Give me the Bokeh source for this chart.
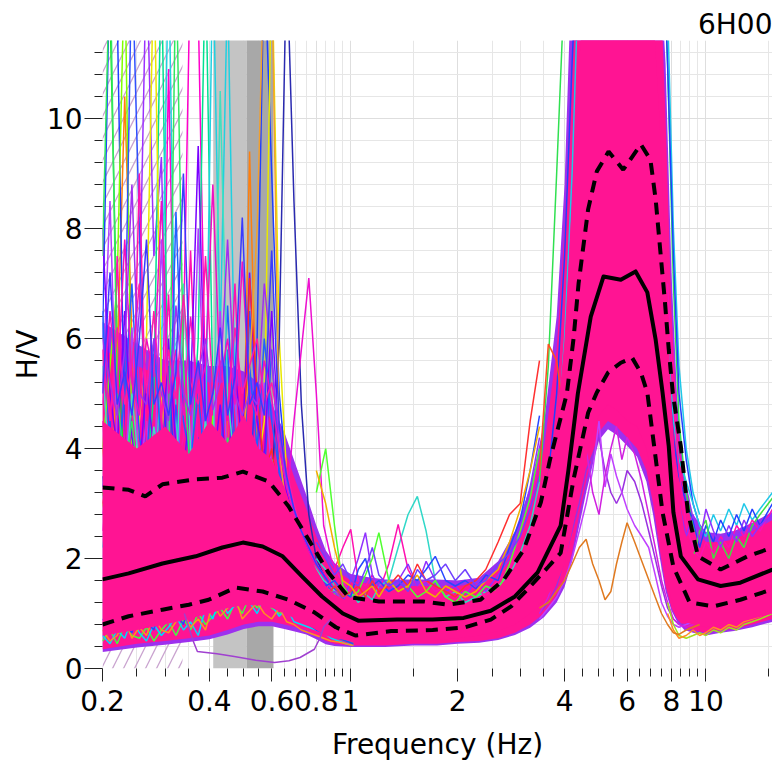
from bokeh.plotting import figure
from bokeh.models import Range1d, FixedTicker, NumeralTickFormatter
from bokeh.embed import file_html
from bokeh.resources import INLINE

# ---------------- axes / ticks ----------------
X_START, X_END = 0.2, 15.4
Y_START, Y_END = 0.0, 11.42
X_MAJOR = [0.2, 0.4, 0.6, 0.8, 1, 2, 4, 6, 8, 10]
X_MINOR = [0.25, 0.3, 0.35, 0.45, 0.5, 0.55, 0.65, 0.7, 0.75, 0.85, 0.9, 0.95,
           1.5, 2.5, 3, 3.5, 4.5, 5, 5.5, 6.5, 7, 7.5, 8.5, 9, 9.5, 15, 20]
Y_MAJOR = [0, 2, 4, 6, 8, 10]
Y_MINOR = [0.4, 0.8, 1.2, 1.6, 2.4, 2.8, 3.2, 3.6, 4.4, 4.8, 5.2, 5.6, 6.4, 6.8,
           7.2, 7.6, 8.4, 8.8, 9.2, 9.6, 10.4, 10.8, 11.2]

# shaded frequency regions (Hz)
HATCH_F = [0.2, 0.336]
GRAY_LIGHT_F = [0.41, 0.509]
GRAY_DARK_F = [0.509, 0.606]

# ---------------- dense band of windows (envelopes) ----------------
FB = [0.2, 0.25, 0.3, 0.35, 0.4, 0.45, 0.5, 0.55, 0.6, 0.65,
      0.7, 0.75, 0.8, 0.85, 0.9, 1.0, 1.1, 1.25, 1.5, 1.75,
      2.0, 2.3, 2.6, 2.9, 3.2, 3.5, 3.8, 4.0, 4.2, 4.4,
      4.6, 4.8, 5.0, 5.3, 5.6, 6.0, 6.4, 6.8, 7.1, 7.4,
      7.7, 8.0, 8.3, 8.7, 9.2, 10, 11, 12, 13.5, 15.4]
FRINGE_LO = [0.3, 0.38, 0.43, 0.48, 0.53, 0.62, 0.72, 0.77, 0.77, 0.72,
             0.67, 0.62, 0.53, 0.44, 0.41, 0.39, 0.39, 0.39, 0.42, 0.42,
             0.45, 0.47, 0.52, 0.61, 0.74, 0.93, 1.2, 1.48, 1.95, 2.6,
             3.2, 3.7, 4.15, 4.35, 4.25, 4.05, 3.85, 3.4, 2.8, 2.05,
             1.4, 1.05, 0.85, 0.7, 0.65, 0.6, 0.65, 0.68, 0.75, 0.85]
FRINGE_HI = [6.3, 5.9, 5.6, 5.6, 5.5, 5.5, 5.4, 5.2, 4.8, 4.3,
             3.7, 3.15, 2.6, 2.15, 1.92, 1.72, 1.67, 1.62, 1.62, 1.62,
             1.6, 1.65, 1.95, 2.5, 3.3, 4.45, 6.4, 8.8, 13, 13,
             13, 13, 13, 13, 13, 13, 13, 13, 13, 13,
             11, 7.2, 4.9, 3.5, 2.8, 2.48, 2.45, 2.5, 2.65, 2.85]
BAND_LO = [0.35, 0.45, 0.5, 0.55, 0.6, 0.7, 0.8, 0.85, 0.85, 0.8,
           0.75, 0.7, 0.6, 0.5, 0.45, 0.42, 0.42, 0.42, 0.45, 0.45,
           0.48, 0.5, 0.55, 0.65, 0.8, 1.0, 1.3, 1.6, 2.1, 2.8,
           3.4, 3.9, 4.3, 4.5, 4.4, 4.2, 4.0, 3.6, 3.0, 2.2,
           1.5, 1.1, 0.9, 0.75, 0.7, 0.65, 0.7, 0.72, 0.8, 0.9]
BAND_HI = [5.8, 5.5, 5.3, 5.3, 5.2, 5.2, 5.1, 4.9, 4.5, 4.0,
           3.4, 2.9, 2.4, 2.0, 1.8, 1.6, 1.55, 1.5, 1.5, 1.5,
           1.5, 1.55, 1.8, 2.3, 3.0, 4.0, 5.8, 8.0, 11, 13,
           13, 13, 13, 13, 13, 13, 13, 13, 13, 13,
           10, 6.5, 4.5, 3.2, 2.6, 2.3, 2.3, 2.35, 2.5, 2.7]
CORE_LO = [0.6, 0.7, 0.8, 0.9, 1.0, 1.1, 1.15, 1.15, 1.1, 1.0,
           0.9, 0.8, 0.7, 0.6, 0.55, 0.5, 0.5, 0.5, 0.52, 0.52,
           0.55, 0.6, 0.68, 0.8, 1.0, 1.25, 1.55, 1.9, 2.5, 3.2,
           3.8, 4.3, 4.6, 4.8, 4.7, 4.5, 4.4, 4.0, 3.4, 2.5,
           1.7, 1.25, 1.0, 0.85, 0.8, 0.75, 0.8, 0.82, 0.9, 1.0]
CORE_HI = [4.5, 4.0, 4.4, 3.9, 4.5, 4.1, 4.6, 4.0, 3.8, 3.3,
           2.7, 2.2, 1.8, 1.5, 1.35, 1.2, 1.15, 1.15, 1.15, 1.15,
           1.15, 1.25, 1.45, 1.85, 2.4, 3.2, 4.4, 6.0, 8.5, 11.0,
           13, 13, 13, 13, 13, 13, 13, 13, 12, 10,
           7.5, 4.8, 3.3, 2.5, 2.1, 1.95, 1.95, 2.0, 2.1, 2.3]

# ---------------- individual windows, low frequencies ----------------
FL = [0.200, 0.210, 0.220, 0.231, 0.242, 0.254, 0.266, 0.279, 0.293, 0.307,
      0.322, 0.338, 0.354, 0.372, 0.390, 0.409, 0.429, 0.450, 0.472, 0.495,
      0.519, 0.545, 0.571, 0.599, 0.629, 0.660, 0.692, 0.726, 0.762, 0.800,
      0.839, 0.880, 0.924, 0.969, 1.017]
LOW_TRACES = [
    [13, 12, 6, 3.5, 2.5, 3, 2.2, 3.8, 2.6, 2.0, 3.0, 2.4, 2.2, 3.1, 2.5, 2.8, 2.3, 3.5, 2.7, 2.2,
     2.6, 2.9, 2.4, 2.8, 2.5, 2.2, 2.0, 1.9, 1.8, 1.6, 1.4, 1.3, 1.2, 1.1, 1.0],
    [4.0, 3.0, 5.5, 10.4, 6.0, 3.0, 4.0, 2.5, 3.2, 2.2, 2.8, 3.6, 2.4, 2.0, 3.0, 2.6, 2.2, 4.5, 3.0, 2.6,
     9.4, 4.0, 3.2, 2.5, 2.8, 2.0, 1.8, 1.6, 1.5, 1.4, 1.3, 1.2, 1.1, 1.0, 0.9],
    [6.0, 13, 12, 4.0, 3.2, 2.8, 3.5, 2.6, 2.9, 5.5, 3.0, 2.5, 3.0, 4.2, 2.8, 3.0, 2.5, 2.7, 3.6, 2.8,
     3.0, 6.0, 13, 9.0, 5.0, 3.5, 2.5, 2.2, 1.9, 1.7, 1.5, 1.3, 1.2, 1.1, 1.0],
    [3.0, 2.4, 3.5, 2.6, 4.8, 6.5, 13, 7.5, 9.3, 3.5, 2.8, 3.3, 2.6, 3.0, 5.6, 3.2, 2.5, 2.9, 3.8, 3.0,
     2.7, 3.4, 2.6, 2.9, 2.4, 2.1, 1.9, 1.7, 1.6, 1.5, 1.3, 1.2, 1.1, 1.0, 0.95],
    [2.5, 3.5, 2.8, 4.0, 3.0, 5.0, 3.2, 2.6, 3.4, 10.9, 4.0, 6.0, 13, 12, 5.0, 3.0, 2.6, 3.5, 2.8, 4.5,
     3.0, 2.5, 3.2, 2.8, 3.0, 2.6, 2.4, 2.2, 2.0, 1.8, 1.6, 1.4, 1.3, 1.2, 1.1],
    [3.2, 2.5, 3.0, 2.6, 3.6, 2.8, 3.4, 5.0, 13, 4.0, 3.0, 2.8, 3.5, 6.0, 13, 5.0, 3.0, 3.3, 2.7, 3.1,
     2.6, 3.0, 2.8, 3.6, 2.9, 2.5, 2.2, 2.0, 1.8, 1.6, 1.5, 1.3, 1.2, 1.1, 1.0],
    [2.2, 3.0, 2.6, 3.3, 2.8, 3.0, 4.2, 3.1, 5.5, 13, 4.5, 3.0, 2.7, 3.5, 4.2, 13, 6.0, 12.5, 5.0, 3.0,
     2.8, 3.3, 2.6, 3.0, 2.5, 2.7, 2.3, 2.1, 1.9, 1.7, 1.5, 1.4, 1.3, 1.2, 1.1],
    [3.0, 2.5, 3.5, 2.8, 3.2, 4.5, 6.0, 13, 5.0, 3.2, 2.8, 3.5, 2.9, 3.1, 2.6, 3.0, 3.4, 2.7, 3.2, 2.8,
     3.0, 3.6, 4.5, 13, 6.0, 3.5, 2.5, 2.2, 2.0, 1.8, 1.6, 1.5, 1.3, 1.2, 1.1],
    [3.5, 2.8, 3.2, 4.0, 2.9, 3.5, 2.7, 3.3, 2.6, 3.0, 2.8, 3.6, 2.9, 3.1, 2.7, 3.2, 2.8, 3.0, 3.5, 2.9,
     3.3, 3.0, 3.6, 3.2, 6.0, 13, 8.5, 4.8, 2.8, 2.0, 1.7, 1.5, 1.4, 1.2, 1.1],
    [2.8, 3.5, 2.6, 3.0, 3.8, 2.7, 3.2, 2.9, 3.6, 2.5, 3.0, 2.7, 3.4, 2.8, 3.2, 2.6, 3.0, 3.5, 2.8, 3.1,
     2.7, 3.3, 2.9, 3.0, 2.6, 3.0, 4.5, 5.8, 7.1, 5.0, 2.6, 2.0, 1.7, 1.5, 1.3],
    [4.0, 5.5, 7.0, 13, 4.0, 3.0, 2.7, 3.4, 3.0, 2.6, 3.2, 2.8, 3.0, 2.5, 3.3, 4.6, 3.0, 2.6, 3.1, 2.8,
     4.0, 2.9, 3.2, 2.7, 3.0, 2.5, 2.2, 2.0, 1.8, 1.7, 1.5, 1.4, 1.3, 1.2, 1.1],
    [3.3, 4.5, 3.0, 5.5, 13, 8.0, 3.5, 2.8, 3.6, 3.0, 4.8, 3.2, 2.9, 3.5, 3.0, 2.7, 3.3, 5.8, 3.4, 3.0,
     6.5, 4.5, 3.5, 5.8, 3.5, 2.8, 2.4, 2.1, 1.9, 1.7, 1.6, 1.4, 1.3, 1.2, 1.1],
    [5.0, 8.5, 4.0, 3.0, 6.2, 3.5, 4.5, 3.0, 7.8, 4.2, 3.2, 5.5, 3.5, 8.0, 4.0, 3.5, 6.5, 3.6, 5.0, 3.2,
     4.0, 3.4, 5.2, 3.6, 3.2, 2.8, 2.5, 2.2, 2.0, 1.8, 1.6, 1.5, 1.3, 1.2, 1.1],
    [4.5, 3.2, 7.5, 4.0, 3.5, 9.0, 4.0, 3.2, 4.5, 6.8, 3.5, 4.2, 7.6, 3.8, 3.3, 5.0, 3.6, 4.2, 7.0, 3.8,
     3.4, 4.6, 3.6, 3.2, 3.8, 3.0, 2.6, 2.3, 2.1, 1.9, 1.7, 1.5, 1.4, 1.2, 1.1],
    [6.5, 4.0, 3.5, 5.0, 7.0, 4.2, 3.6, 6.0, 4.0, 3.5, 8.3, 4.5, 3.8, 5.0, 3.6, 4.4, 3.5, 6.6, 4.0, 3.6,
     5.5, 4.0, 6.0, 4.5, 3.6, 3.0, 2.6, 2.3, 2.0, 1.8, 1.6, 1.5, 1.3, 1.2, 1.1],
    [8.0, 5.0, 4.0, 6.5, 4.2, 3.6, 5.2, 4.0, 3.5, 6.0, 4.0, 3.5, 5.0, 9.5, 4.5, 3.6, 4.8, 3.5, 5.5, 4.0,
     7.2, 4.5, 3.8, 6.5, 4.0, 3.2, 2.8, 2.4, 2.1, 1.9, 1.7, 1.5, 1.4, 1.2, 1.1],
    [3.0, 3.6, 2.8, 3.4, 3.0, 3.8, 2.9, 3.3, 3.0, 3.6, 2.8, 3.2, 3.0, 3.4, 2.9, 3.1, 3.6, 3.0, 3.3, 2.8,
     7.1, 5.0, 3.5, 4.0, 3.0, 2.6, 2.3, 2.1, 1.9, 1.7, 1.5, 1.4, 1.3, 1.2, 1.1],
    [5.5, 3.5, 4.0, 3.2, 5.0, 3.6, 3.2, 4.4, 3.5, 4.0, 3.3, 7.0, 4.0, 3.4, 4.5, 3.6, 10.5, 5.0, 3.6, 3.3,
     4.0, 3.5, 3.2, 3.8, 3.2, 2.8, 2.5, 2.2, 2.0, 1.8, 1.6, 1.5, 1.3, 1.2, 1.1],
    [3.2, 2.8, 3.4, 3.0, 2.7, 3.3, 2.9, 3.1, 2.6, 3.4, 3.0, 2.8, 3.2, 2.9, 3.5, 3.0, 2.7, 3.3, 3.1, 4.0,
     5.5, 8.0, 13, 13, 4.0, 2.8, 2.4, 2.1, 1.9, 1.7, 1.5, 1.4, 1.3, 1.2, 1.1],
    [7.5, 13, 5.0, 3.6, 4.5, 3.2, 3.8, 3.0, 4.0, 3.4, 13, 5.5, 3.5, 4.0, 3.3, 3.8, 3.2, 4.2, 3.5, 3.0,
     3.6, 3.2, 3.0, 3.4, 3.0, 2.6, 2.3, 2.1, 1.9, 1.7, 1.5, 1.4, 1.3, 1.2, 1.1],
    [5.8, 4.5, 6.2, 4.8, 5.5, 7.0, 5.0, 6.5, 4.6, 5.8, 4.9, 6.8, 5.2, 4.8, 7.5, 5.0, 5.6, 4.7, 6.2, 5.0,
     5.5, 6.0, 4.8, 5.2, 4.4, 3.6, 3.0, 2.5, 2.2, 1.9, 1.7, 1.5, 1.4, 1.2, 1.1],
    [4.8, 6.5, 5.0, 7.8, 5.2, 4.6, 6.0, 5.3, 8.5, 5.0, 5.8, 4.6, 6.4, 5.0, 5.5, 8.8, 5.2, 6.0, 4.8, 7.4,
     5.0, 4.6, 5.6, 4.9, 4.0, 3.3, 2.8, 2.4, 2.1, 1.9, 1.7, 1.5, 1.4, 1.2, 1.1],
    [6.0, 5.2, 4.6, 5.8, 8.8, 5.0, 4.8, 6.0, 5.0, 4.5, 6.6, 5.0, 4.6, 5.4, 6.0, 4.7, 5.2, 7.8, 5.0, 4.6,
     5.0, 4.8, 7.0, 5.6, 4.2, 3.4, 2.9, 2.5, 2.2, 1.9, 1.7, 1.5, 1.4, 1.2, 1.1],
    [5.0, 7.2, 4.8, 5.4, 4.6, 6.0, 7.8, 4.8, 5.2, 4.6, 5.4, 9.0, 4.8, 5.6, 4.5, 5.0, 6.2, 4.6, 5.3, 8.2,
     4.8, 5.2, 4.6, 7.6, 4.4, 3.5, 2.9, 2.5, 2.2, 1.9, 1.7, 1.5, 1.4, 1.2, 1.1],
]
LOW_COLORS = ["#22dd22", "#ff7f0e", "#1f3fff", "#9b30ff", "#ff00cc", "#00e090", "#20d0e0",
              "#e8e800", "#2a2ab0", "#ee10d0", "#80ff00", "#3050ff", "#b040ff", "#ff10b0",
              "#2060ff", "#7a00ff", "#ff2a2a", "#40e0c0", "#f0a030", "#30e860",
              "#ff1aa8", "#f010c0", "#a030f0", "#3a3aff"]

BOTTOM_TRACES = [
    [0.5, 0.7, 0.45, 0.8, 0.6, 0.55, 0.75, 0.5, 0.7, 0.85, 0.6, 0.9, 0.7, 1.0, 0.8, 0.95, 1.1, 0.9, 1.2, 1.0,
     1.3, 1.1, 1.25, 1.1, 1.0, 1.05, 0.95, 0.9, 0.8, 0.75, 0.7, 0.6, 0.55, 0.5, 0.45],
    [0.6, 0.45, 0.7, 0.55, 0.9, 0.65, 0.5, 0.8, 0.6, 0.75, 0.95, 0.7, 0.85, 0.6, 1.1, 0.9, 1.3, 1.0, 1.15, 1.4,
     1.2, 1.0, 1.3, 1.15, 0.95, 1.1, 0.85, 0.8, 0.75, 0.7, 0.65, 0.55, 0.5, 0.45, 0.42],
    [0.7, 0.5, 0.6, 0.9, 0.55, 0.75, 0.6, 0.95, 0.7, 0.65, 0.85, 1.0, 0.75, 0.9, 0.7, 1.2, 0.95, 1.1, 1.3, 0.9,
     1.05, 1.2, 1.0, 0.9, 1.1, 0.85, 0.8, 0.7, 0.65, 0.6, 0.55, 0.5, 0.48, 0.45, 0.42],
    [0.9, 0.7, 1.0, 0.8, 0.65, 1.1, 0.85, 0.7, 1.2, 0.9, 1.0, 0.8, 1.3, 1.0, 1.15, 1.4, 1.1, 1.5, 1.2, 1.35,
     1.6, 1.3, 1.4, 1.2, 1.3, 1.1, 1.0, 0.9, 0.8, 0.7, 0.65, 0.6, 0.55, 0.5, 0.45],
]
BOTTOM_COLORS = ["#40ff40", "#00d8ff", "#ff9020", "#3040ff"]

# ---------------- individual windows, 0.8 - 3.4 Hz ----------------
FM = [0.8, 0.85, 0.9, 0.95, 1.0, 1.05, 1.1, 1.15, 1.2, 1.28,
      1.36, 1.45, 1.54, 1.63, 1.73, 1.85, 1.97, 2.1, 2.25, 2.4,
      2.6, 2.8, 3.0, 3.2, 3.4]
MID_TRACES = [
    [2.0, 1.8, 1.5, 1.3, 1.4, 1.2, 1.35, 1.25, 1.5, 1.6, 2.2, 2.8, 3.13, 2.5, 1.6, 1.3, 1.4, 1.2, 1.3, 1.4, 1.5, 1.7, 2.1, 2.6, 3.4],
    [1.6, 1.4, 1.8, 2.2, 2.53, 1.6, 1.5, 1.7, 1.4, 1.9, 2.62, 1.8, 1.5, 1.6, 1.4, 1.5, 1.3, 1.4, 1.5, 1.3, 1.6, 1.8, 2.4, 3.0, 3.8],
    [1.5, 1.3, 1.4, 1.2, 1.6, 2.0, 2.47, 1.7, 1.5, 1.4, 1.6, 1.9, 1.5, 1.95, 1.6, 1.4, 1.5, 1.3, 1.6, 1.4, 1.7, 2.0, 2.6, 3.3, 4.2],
    [3.2, 4.0, 2.6, 1.5, 1.3, 1.4, 1.7, 2.0, 2.47, 1.6, 1.4, 1.5, 1.3, 1.4, 1.6, 1.3, 1.2, 1.4, 1.3, 1.5, 1.4, 1.9, 2.5, 3.1, 4.0],
    [1.7, 1.5, 1.6, 1.4, 1.3, 1.8, 2.0, 1.5, 1.6, 1.4, 1.5, 1.7, 1.6, 1.8, 2.04, 1.6, 1.5, 1.6, 1.45, 1.7, 1.6, 2.2, 2.7, 3.6, 4.6],
    [1.4, 1.3, 1.5, 1.3, 1.4, 1.5, 1.3, 1.6, 1.4, 1.5, 1.7, 1.5, 1.9, 1.6, 1.5, 1.4, 1.3, 1.5, 1.6, 1.8, 2.3, 2.8, 3.0, 4.5, 5.6],
    [3.6, 3.0, 2.2, 1.6, 1.5, 1.3, 1.4, 1.5, 1.3, 1.6, 1.4, 1.5, 1.7, 1.4, 1.3, 1.5, 1.4, 1.3, 1.4, 1.6, 1.8, 2.3, 2.9, 3.6, 4.4],
    [2.3, 2.0, 1.7, 1.9, 1.6, 1.5, 1.8, 2.2, 1.7, 1.5, 1.6, 1.4, 1.8, 1.6, 1.7, 1.9, 1.6, 1.8, 1.5, 1.6, 1.9, 2.1, 2.4, 2.9, 3.5],
]
MID_COLORS = ["#30d8c8", "#ff10b0", "#9030ff", "#50ff30", "#2848ff", "#ff3030", "#f0b000", "#7040ff"]

# ---------------- individual windows around the peak ----------------
FP = [3.4, 3.6, 3.8, 4.0, 4.2, 4.4, 4.6, 4.8, 5.0, 5.2,
      5.4, 5.6, 5.8, 6.0, 6.3, 6.6, 6.9, 7.2, 7.5, 7.8,
      8.1, 8.4, 8.8, 9.2, 9.6]
PEAK_TRACES = [
    [3.4, 5.5, 9.0, 12.5, 14, 14, 14, 14, 14, 14, 14, 14, 14, 14, 14, 14, 14, 14, 14, 11, 7.0, 4.5, 3.2, 2.6, 2.3],
    [1.0, 1.2, 1.5, 2.0, 2.5, 3.0, 3.6, 3.9, 4.2, 3.6, 3.2, 3.0, 3.2, 3.6, 3.4, 3.0, 2.5, 2.0, 1.5, 1.1, 0.9, 0.8, 0.8, 0.85, 0.9],
    [0.9, 1.1, 1.3, 1.6, 2.0, 2.5, 3.0, 3.6, 4.5, 3.3, 3.9, 3.5, 3.2, 2.9, 2.6, 2.4, 2.2, 1.7, 1.2, 0.95, 0.8, 0.75, 0.8, 0.85, 0.9],
    [1.0, 1.3, 1.8, 2.4, 3.0, 3.5, 4.0, 3.2, 2.8, 3.5, 4.0, 4.4, 3.8, 4.2, 3.9, 3.4, 2.8, 2.2, 1.6, 1.2, 0.9, 0.8, 0.75, 0.8, 0.85],
    [2.0, 2.8, 4.0, 6.0, 9.0, 13, 14, 14, 14, 14, 14, 14, 14, 14, 14, 14, 14, 14, 14, 12, 8.0, 5.5, 4.0, 3.2, 2.8],
    [2.5, 3.5, 5.0, 7.5, 11.0, 14, 14, 14, 14, 14, 14, 14, 14, 14, 14, 14, 14, 14, 14, 11, 7.5, 5.0, 3.8, 3.0, 2.6],
    [3.6, 5.9, 5.6, 4.5, 4.0, 4.6, 5.2, 6.0, 7.0, 8.0, 9.0, 9.5, 9.0, 8.5, 8.0, 7.0, 6.0, 5.0, 3.5, 2.2, 1.4, 1.0, 0.9, 0.85, 0.9],
]
PEAK_COLORS = ["#30e050", "#9a30e0", "#c040ff", "#d020e0", "#20c8e8", "#2040ff", "#ff5020"]
# single window with a dip under the peak (drawn on top)
ORANGE_DIP = [1.1, 1.2, 1.4, 1.6, 1.9, 2.2, 2.35, 1.9, 1.6, 1.25, 1.4, 1.9, 2.3, 2.65, 2.3, 1.95, 1.62, 1.3, 1.0, 0.8,
              0.65, 0.62, 0.7, 0.75, 0.8]

# ---------------- individual windows, high frequencies ----------------
FR = [7.8, 8.1, 8.4, 8.8, 9.2, 9.6, 10, 10.5, 11, 11.6, 12.2, 12.8, 13.5, 14.2, 15.4]
HIGH_TRACES = [
    [6.0, 4.5, 3.8, 3.4, 3.0, 2.6, 2.4, 2.8, 2.5, 2.9, 2.6, 3.0, 2.7, 2.9, 3.2],
    [5.5, 4.2, 3.5, 3.0, 2.7, 2.2, 2.6, 2.3, 2.7, 2.4, 2.8, 2.5, 2.9, 2.6, 3.0],
    [4.0, 3.0, 2.6, 2.3, 2.0, 2.5, 2.7, 2.0, 2.3, 2.0, 2.4, 2.2, 2.6, 2.8, 3.1],
    [7.0, 5.0, 3.6, 2.6, 2.2, 2.0, 2.3, 2.1, 2.4, 2.2, 2.6, 2.4, 2.7, 2.5, 2.9],
    [1.2, 0.8, 0.6, 0.55, 0.6, 0.65, 0.6, 0.7, 0.65, 0.75, 0.7, 0.8, 0.85, 0.9, 1.0],
    [1.0, 0.7, 0.55, 0.6, 0.7, 0.6, 0.65, 0.75, 0.7, 0.8, 0.75, 0.85, 0.9, 0.95, 1.05],
    [3.2, 2.6, 3.0, 2.4, 2.8, 2.3, 2.9, 2.5, 2.2, 2.6, 2.3, 2.7, 2.4, 2.6, 2.8],
]
HIGH_COLORS = ["#20c8e8", "#2040ff", "#40e040", "#ff10b0", "#a0e020", "#ff9020", "#9030ff"]

# one low window (purple) below the band
LOWLINE_F = [0.34, 0.36, 0.37, 0.42, 0.47, 0.54, 0.61, 0.67, 0.72, 0.79, 0.82, 0.84, 0.88]
LOWLINE_V = [1.0, 0.5, 0.31, 0.27, 0.22, 0.15, 0.11, 0.14, 0.2, 0.35, 0.56, 0.76, 0.9]

# ---------------- average curve and +/- std ----------------
F_MEAN = [0.2, 0.237, 0.295, 0.366, 0.435, 0.497, 0.565, 0.643, 0.73, 0.83,
          0.95, 1.05, 1.35, 1.7, 2.08, 2.48, 2.9, 3.36, 3.9, 4.1,
          4.36, 4.74, 5.15, 5.76, 6.34, 6.84, 7.22, 7.55, 7.86, 8.1,
          8.5, 9.5, 11.0, 12.5, 15.4]
MEAN = [1.62, 1.73, 1.91, 2.04, 2.2, 2.29, 2.22, 2.04, 1.67, 1.31,
        1.0, 0.87, 0.89, 0.89, 0.92, 1.05, 1.31, 1.75, 2.6, 3.6,
        5.0, 6.4, 7.13, 7.07, 7.22, 6.84, 5.98, 5.02, 4.04, 2.84,
        2.04, 1.62, 1.5, 1.56, 1.8]
F_UP = [0.2, 0.237, 0.264, 0.295, 0.366, 0.435, 0.497, 0.588, 0.668, 0.76,
        0.866, 0.986, 1.2, 1.6, 1.88, 2.32, 2.7, 3.07, 3.43, 3.64,
        4.06, 4.24, 4.38, 4.66, 4.93, 5.32, 5.85, 6.56, 6.98, 7.22,
        7.44, 7.66, 7.86, 8.07, 8.5, 8.9, 9.5, 11.0, 13.1, 15.4]
UP = [3.29, 3.25, 3.13, 3.35, 3.44, 3.47, 3.58, 3.4, 2.95, 2.35,
      1.74, 1.3, 1.22, 1.22, 1.16, 1.25, 1.62, 2.16, 3.02, 3.8,
      5.0, 6.0, 7.0, 8.35, 9.04, 9.4, 9.07, 9.53, 9.25, 8.53,
      7.6, 6.7, 5.8, 5.0, 4.04, 2.84, 2.04, 1.8, 2.04, 2.2]
F_LO = [0.2, 0.237, 0.295, 0.35, 0.398, 0.474, 0.565, 0.668, 0.79, 0.908,
        1.03, 1.3, 1.7, 2.1, 2.48, 2.83, 3.2, 3.6, 3.9, 4.24,
        4.66, 4.93, 5.3, 5.76, 6.2, 6.56, 6.84, 7.15, 7.55, 8.1,
        9.0, 10.5, 12.5, 15.4]
LO = [0.8, 0.95, 1.07, 1.16, 1.25, 1.47, 1.4, 1.25, 1.02, 0.75,
      0.6, 0.68, 0.7, 0.75, 0.89, 1.13, 1.49, 1.85, 2.1, 3.44,
      4.65, 5.02, 5.38, 5.56, 5.65, 5.38, 5.02, 4.04, 2.84, 1.85,
      1.2, 1.13, 1.25, 1.44]

TITLE = "6H00"
X_LABEL = "Frequency (Hz)"
Y_LABEL = "H/V"

FONT = "DejaVu Sans"
MAGENTA = "#ff1493"
FRINGE = "#9d30ee"

# ---------------- figure ----------------
p = figure(width=772, height=768, x_axis_type="log",
           x_range=Range1d(X_START, X_END), y_range=Range1d(Y_START, Y_END),
           output_backend="svg", toolbar_location=None,
           min_border_left=102, min_border_right=0, min_border_top=40, min_border_bottom=100,
           title=TITLE)
p.outline_line_color = None
p.background_fill_color = "white"

p.title.text_font = FONT
p.title.text_font_size = "28px"
p.title.text_font_style = "normal"
p.title.text_color = "black"
p.title.align = "right"
p.title.standoff = 0

for ax in (p.xaxis[0], p.yaxis[0]):
    ax.axis_line_color = None
    ax.major_tick_line_color = "#222222"
    ax.minor_tick_line_color = "#222222"
    ax.major_tick_in = 0
    ax.minor_tick_in = 0
    ax.major_label_text_font = FONT
    ax.major_label_text_font_size = "28px"
    ax.major_label_text_color = "black"
    ax.axis_label_text_font = FONT
    ax.axis_label_text_font_size = "28px"
    ax.axis_label_text_font_style = "normal"
    ax.axis_label_text_color = "black"

p.xaxis.ticker = FixedTicker(ticks=X_MAJOR, minor_ticks=X_MINOR)
p.xaxis.formatter = NumeralTickFormatter(format="0.[0]")
p.xaxis.major_tick_out = 13
p.xaxis.minor_tick_out = 8
p.xaxis.major_label_standoff = 8
p.xaxis.axis_label = X_LABEL
p.xaxis.axis_label_standoff = 14

p.yaxis.ticker = FixedTicker(ticks=Y_MAJOR, minor_ticks=Y_MINOR)
p.yaxis.major_tick_out = 18
p.yaxis.minor_tick_out = 8
p.yaxis.major_label_standoff = 2
p.yaxis.axis_label = Y_LABEL
p.yaxis.axis_label_standoff = 0

for g in (p.xgrid[0], p.ygrid[0]):
    g.grid_line_color = "#dedede"
    g.minor_grid_line_color = "#e6e6e6"
    g.grid_line_width = 1
    g.minor_grid_line_width = 1

# shaded regions
p.quad(left=[HATCH_F[0]], right=[HATCH_F[1]], bottom=[Y_START], top=[Y_END + 1],
       fill_color=None, line_color=None, hatch_pattern="/", hatch_color="#c9a3cf",
       hatch_scale=22, hatch_weight=1.3)
p.quad(left=[GRAY_LIGHT_F[0]], right=[GRAY_LIGHT_F[1]], bottom=[Y_START], top=[Y_END + 1],
       fill_color="#c4c4c4", line_color=None)
p.quad(left=[GRAY_DARK_F[0]], right=[GRAY_DARK_F[1]], bottom=[Y_START], top=[Y_END + 1],
       fill_color="#a8a8a8", line_color=None)

# band of windows
p.varea(x=FB, y1=FRINGE_LO, y2=FRINGE_HI, fill_color=FRINGE)
p.varea(x=FB, y1=BAND_LO, y2=BAND_HI, fill_color=MAGENTA)


def draw(fgrid, traces, colors, width=1.5):
    xs = [fgrid[:len(t)] for t in traces]
    ys = [t[:len(fgrid)] for t in traces]
    p.multi_line(xs=xs, ys=ys, line_color=colors[:len(traces)], line_width=width)


draw(FL, LOW_TRACES, LOW_COLORS)
draw(FL, BOTTOM_TRACES, BOTTOM_COLORS)
draw(FM, MID_TRACES, MID_COLORS)
draw(FP, PEAK_TRACES, PEAK_COLORS)
draw(FR, HIGH_TRACES, HIGH_COLORS)

p.varea(x=FB, y1=CORE_LO, y2=CORE_HI, fill_color=MAGENTA)

p.line(LOWLINE_F, LOWLINE_V, line_color="#a040d0", line_width=1.5)
p.line(FP, ORANGE_DIP, line_color="#e07a20", line_width=1.5)

# average and +/- standard deviation
p.line(F_MEAN, MEAN, line_color="black", line_width=4, line_join="round")
p.line(F_UP, UP, line_color="black", line_width=4, line_dash="12 8")
p.line(F_LO, LO, line_color="black", line_width=4, line_dash="12 8")

open("out.html", "w").write(file_html(p, INLINE))
